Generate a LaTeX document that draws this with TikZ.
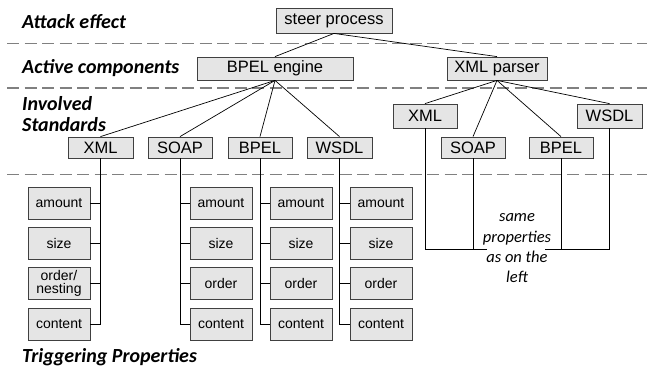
\documentclass[tikz,border=0pt]{standalone}
\usepackage{fontspec}
\setmainfont{Liberation Sans}
\newfontfamily\headfont{Carlito}
\begin{document}
\begin{tikzpicture}[x=1pt,y=-1pt,
  box/.style={draw=black!75,fill=black!10,line width=0.8pt,inner sep=0pt,
    font=\fontsize{16.5}{18}\selectfont},
  propbox/.style={box,minimum width=62pt,minimum height=32pt,
    font=\fontsize{14}{15}\selectfont,align=center},
  lvlbox/.style={box,minimum width=64pt,minimum height=21pt},
  head/.style={anchor=west,inner sep=0pt,font=\headfont\bfseries\itshape\fontsize{20}{22}\selectfont,align=left},
  sep/.style={draw=black!50,line width=1.8pt,dash pattern=on 12pt off 5.5pt},
  conn/.style={draw=black,line width=0.7pt},
  note/.style={inner sep=0pt,font=\headfont\itshape\fontsize{16.5}{20.3}\selectfont,align=center}]
\useasboundingbox (0,0) rectangle (647,368);

% separators
\coordinate (s1a) at (7,43.5); \coordinate (s1b) at (647,43.5);
\coordinate (s2a) at (7,88); \coordinate (s2b) at (647,88);
\coordinate (s3a) at (7,174.5); \coordinate (s3b) at (647,174.5);
\draw[sep] (s1a) -- (s1b);
\draw[sep] (s2a) -- (s2b);
\draw[sep] (s3a) -- (s3b);

% headings
\node[head] (h1) at (22,22) {Attack effect};
\node[head] (h2) at (22,68) {Active components};
\node[head] (h3) at (22,114) {Involved\\[-1pt]Standards};
\node[head] (h4) at (22,357) {Triggering Properties};

% top levels
\node[box,minimum width=116pt,minimum height=25pt] (steer) at (334,20.5) {steer process};
\node[box,minimum width=156pt,minimum height=23pt] (engine) at (275,68.5) {BPEL engine};
\node[box,minimum width=100pt,minimum height=23pt] (parser) at (497,68.5) {XML parser};

% level 3 left
\node[lvlbox,minimum width=65pt] (lxml) at (100.5,147.5) {XML};
\node[lvlbox] (lsoap) at (180,147.5) {SOAP};
\node[lvlbox] (lbpel) at (260,147.5) {BPEL};
\node[lvlbox,minimum width=65pt] (lwsdl) at (339.5,147.5) {WSDL};

% level 3 right
\node[lvlbox,minimum height=24pt] (rxml) at (425,116) {XML};
\node[lvlbox] (rsoap) at (473,147.5) {SOAP};
\node[lvlbox] (rbpel) at (561,147.5) {BPEL};
\node[lvlbox,minimum width=65pt,minimum height=24pt] (rwsdl) at (609.5,116) {WSDL};

% tree connectors
\draw[conn] (steer.south) -- (engine.north);
\draw[conn] (steer.south) -- (parser.north);
\foreach \n in {lxml,lsoap,lbpel,lwsdl} \draw[conn] (engine.south) -- (\n.north);
\foreach \n in {rxml,rsoap,rbpel,rwsdl} \draw[conn] (parser.south) -- (\n.north);

% property boxes
\node[propbox] (xa) at (59,203) {amount};
\node[propbox] (xs) at (59,243) {size};
\node[propbox] (xo) at (59,283) {order/\\[-2pt]nesting};
\node[propbox] (xc) at (59,324) {content};
\foreach \c/\x in {s/221,b/301,w/381}{
  \node[propbox] (\c a) at (\x,203) {amount};
  \node[propbox] (\c s) at (\x,243) {size};
  \node[propbox] (\c o) at (\x,283) {order};
  \node[propbox] (\c c) at (\x,324) {content};
}

% property connectors
\draw[conn] (lxml.south) |- (xc.east);
\foreach \b in {xa,xs,xo} \draw[conn] (\b.east) -- (\b.east -| lxml.south);
\draw[conn] (lsoap.south) |- (sc.west);
\foreach \b in {sa,ss,so} \draw[conn] (\b.west) -- (\b.west -| lsoap.south);
\draw[conn] (lbpel.south) |- (bc.west);
\foreach \b in {ba,bs,bo} \draw[conn] (\b.west) -- (\b.west -| lbpel.south);
\draw[conn] (lwsdl.south) |- (wc.west);
\foreach \b in {wa,ws,wo} \draw[conn] (\b.west) -- (\b.west -| lwsdl.south);

% right side
\coordinate (gapL) at (487,249);
\coordinate (gapR) at (545,249);
\draw[conn] (gapL) -| (rxml.south);
\draw[conn] (gapR) -| (rwsdl.south);
\draw[conn] (rsoap.south) -- (rsoap.south |- gapL);
\draw[conn] (rbpel.south) -- (rbpel.south |- gapL);
\node[note] (same) at (517,248.5) {same\\properties\\as on the\\left};
\end{tikzpicture}
\end{document}
